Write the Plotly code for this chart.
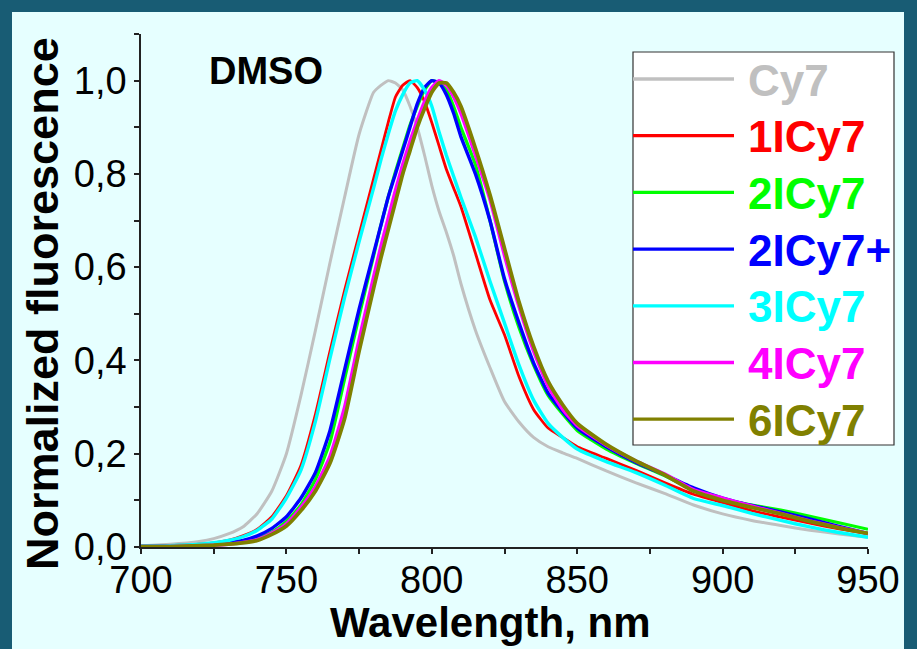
import plotly.graph_objects as go

# ---------------- data ----------------
WAVELENGTH = [700, 710, 720, 725, 730, 735, 740, 745, 750, 755, 760, 765, 770, 775, 780,
              782.5, 785, 787.5, 790, 792.5, 795, 797.5, 800, 802.5, 805, 807.5, 810,
              815, 820, 825, 830, 835, 840, 845, 850, 860, 870, 880, 890, 900, 910,
              920, 930, 940, 950]

CY7 = [0.003, 0.006, 0.012, 0.018, 0.028, 0.043, 0.072, 0.12, 0.2, 0.325, 0.465, 0.61,
       0.75, 0.885, 0.975,
       0.99, 1.0, 0.995, 0.98, 0.945, 0.9, 0.84, 0.775, 0.72, 0.675, 0.625, 0.565,
       0.465, 0.385, 0.312, 0.268, 0.235, 0.215, 0.202, 0.19, 0.163, 0.138, 0.115,
       0.09, 0.071, 0.057, 0.046, 0.036, 0.028, 0.021]
ICY7_1 = [0.002, 0.003, 0.006, 0.009, 0.014, 0.024, 0.038, 0.065, 0.11, 0.175, 0.285,
          0.42, 0.55, 0.67, 0.79,
          0.85, 0.91, 0.965, 0.99, 1.0, 0.985, 0.955, 0.91, 0.86, 0.81, 0.77, 0.73,
          0.63, 0.53, 0.455, 0.365, 0.295, 0.255, 0.235, 0.215, 0.19, 0.165, 0.138,
          0.113, 0.095, 0.078, 0.064, 0.051, 0.039, 0.029]
ICY7_2 = [0.001, 0.002, 0.003, 0.005, 0.007, 0.011, 0.018, 0.032, 0.055, 0.09, 0.145,
          0.225, 0.36, 0.495, 0.625,
          0.69, 0.75, 0.805, 0.855, 0.905, 0.945, 0.98, 1.0, 0.995, 0.98, 0.945, 0.9,
          0.82, 0.7, 0.57, 0.47, 0.39, 0.325, 0.285, 0.25, 0.21, 0.18, 0.153, 0.123,
          0.103, 0.09, 0.079, 0.066, 0.052, 0.038]
ICY7_2P = [0.001, 0.002, 0.004, 0.006, 0.009, 0.014, 0.024, 0.04, 0.065, 0.105, 0.16,
           0.25, 0.38, 0.51, 0.63,
           0.69, 0.75, 0.8, 0.85, 0.9, 0.95, 0.985, 1.0, 0.995, 0.97, 0.93, 0.88,
           0.8, 0.7, 0.575, 0.48, 0.395, 0.33, 0.29, 0.255, 0.215, 0.182, 0.155,
           0.127, 0.105, 0.089, 0.075, 0.06, 0.044, 0.029]
ICY7_3 = [0.002, 0.003, 0.006, 0.009, 0.014, 0.022, 0.036, 0.06, 0.105, 0.165, 0.27,
          0.405, 0.535, 0.655, 0.77,
          0.83, 0.885, 0.935, 0.97, 0.995, 1.0, 0.98, 0.945, 0.89, 0.84, 0.795, 0.75,
          0.665, 0.57, 0.48, 0.39, 0.315, 0.265, 0.235, 0.21, 0.183, 0.16, 0.133,
          0.104, 0.089, 0.072, 0.057, 0.043, 0.031, 0.021]
ICY7_4 = [0.001, 0.001, 0.003, 0.004, 0.006, 0.01, 0.016, 0.03, 0.05, 0.085, 0.13,
          0.195, 0.3, 0.445, 0.58,
          0.645, 0.705, 0.765, 0.82, 0.87, 0.915, 0.955, 0.985, 1.0, 0.99, 0.965, 0.93,
          0.84, 0.745, 0.625, 0.515, 0.42, 0.345, 0.295, 0.26, 0.218, 0.185, 0.157,
          0.123, 0.105, 0.088, 0.072, 0.056, 0.042, 0.029]
ICY7_6 = [0.001, 0.001, 0.003, 0.004, 0.006, 0.009, 0.014, 0.027, 0.045, 0.078, 0.12,
          0.18, 0.275, 0.42, 0.555,
          0.62, 0.68, 0.74, 0.8, 0.85, 0.9, 0.94, 0.975, 0.995, 0.995, 0.975, 0.945,
          0.855, 0.755, 0.64, 0.525, 0.43, 0.355, 0.305, 0.265, 0.22, 0.185, 0.155,
          0.12, 0.1, 0.085, 0.071, 0.055, 0.041, 0.029]

SERIES_NAMES = ["Cy7", "1ICy7", "2ICy7", "2ICy7+", "3ICy7", "4ICy7", "6ICy7"]
SERIES_VALUES = [CY7, ICY7_1, ICY7_2, ICY7_2P, ICY7_3, ICY7_4, ICY7_6]

X_TICKS = [700, 750, 800, 850, 900, 950]
Y_TICKS = [0.0, 0.2, 0.4, 0.6, 0.8, 1.0]
Y_TICK_TEXT = ["0,0", "0,2", "0,4", "0,6", "0,8", "1,0"]
X_TITLE = "Wavelength, nm"
Y_TITLE = "Normalized fluorescence"
SOLVENT = "DMSO"

# ---------------- styles ----------------
COLORS = ["#c0c0c0", "#ff0000", "#00ff00", "#0000ff", "#00ffff", "#ff00ff", "#808000"]
WIDTHS = [3.0, 2.8, 3.2, 3.4, 3.4, 3.4, 3.8]
FONT = "Liberation Sans, Arial, sans-serif"
AXIS_COLOR = "#222222"

W, H = 917, 649
ML, MR, MT, MB = 141, 49, 34, 102
PW, PH = W - ML - MR, H - MT - MB


def px_x(px):
    return (px - ML) / PW


def px_y(py):
    return (H - MB - py) / PH


fig = go.Figure()
for name, vals, color, width in zip(SERIES_NAMES, SERIES_VALUES, COLORS, WIDTHS):
    fig.add_trace(go.Scatter(
        x=WAVELENGTH, y=vals, mode="lines", name=name, showlegend=False,
        line=dict(color=color, width=width, shape="spline", smoothing=0.5),
    ))

shapes = [
    # light panel on the dark frame
    dict(type="rect", xref="paper", yref="paper", layer="below",
         x0=px_x(12), x1=px_x(904), y0=px_y(660), y1=px_y(12),
         fillcolor="#e6ffff", line=dict(width=0)),
    # legend box
    dict(type="rect", xref="paper", yref="paper", layer="above",
         x0=px_x(633), x1=px_x(894), y0=px_y(445), y1=px_y(52),
         fillcolor="#ffffff", line=dict(color="#333333", width=1.2)),
]
annotations = [
    dict(text="<b>" + SOLVENT + "</b>", xref="paper", yref="paper",
         x=px_x(266), y=px_y(71), xanchor="center", yanchor="middle",
         showarrow=False, font=dict(family=FONT, size=38, color="black")),
    dict(text="<b>" + X_TITLE + "</b>", xref="paper", yref="paper",
         x=px_x(490), y=px_y(622), xanchor="center", yanchor="middle",
         showarrow=False, font=dict(family=FONT, size=42, color="black")),
    dict(text="<b>" + Y_TITLE + "</b>", xref="paper", yref="paper", textangle=-90,
         x=px_x(42), y=px_y(304), xanchor="center", yanchor="middle",
         showarrow=False, font=dict(family=FONT, size=45, color="black")),
]
for i, (name, color) in enumerate(zip(SERIES_NAMES, COLORS)):
    ypx = 79 + i * 56.7
    shapes.append(dict(type="line", xref="paper", yref="paper", layer="above",
                       x0=px_x(633), x1=px_x(734), y0=px_y(ypx), y1=px_y(ypx),
                       line=dict(color=color, width=3.3)))
    annotations.append(dict(text="<b>" + name + "</b>", xref="paper", yref="paper",
                            x=px_x(746), y=px_y(ypx + 1), xanchor="left",
                            yanchor="middle", showarrow=False,
                            font=dict(family=FONT, size=44, color=color)))

fig.update_layout(
    width=W, height=H, autosize=False,
    margin=dict(l=ML, r=MR, t=MT, b=MB, pad=0),
    paper_bgcolor="#185c74", plot_bgcolor="rgba(0,0,0,0)",
    font=dict(family=FONT, color="black"),
    shapes=shapes, annotations=annotations,
    xaxis=dict(
        range=[700, 950], tickvals=X_TICKS, showgrid=False, zeroline=False,
        showline=True, linecolor=AXIS_COLOR, linewidth=1.5,
        ticks="outside", ticklen=5, tickwidth=1.5, tickcolor=AXIS_COLOR,
        ticklabelstandoff=-6,
        minor=dict(dtick=25, tick0=700, ticks="outside", ticklen=5, tickwidth=1.5,
                   tickcolor=AXIS_COLOR),
        tickfont=dict(family=FONT, size=38, color="black"),
    ),
    yaxis=dict(
        range=[0, 1.1], tickvals=Y_TICKS, ticktext=Y_TICK_TEXT, showgrid=False,
        zeroline=False, showline=True, linecolor=AXIS_COLOR, linewidth=1.5,
        ticks="outside", ticklen=5, tickwidth=1.5, tickcolor=AXIS_COLOR,
        minor=dict(dtick=0.1, tick0=0, ticks="outside", ticklen=5, tickwidth=1.5,
                   tickcolor=AXIS_COLOR),
        tickfont=dict(family=FONT, size=38, color="black"),
    ),
)

fig.write_html("out.html",
               config={"displayModeBar": False},
               post_script="document.body.style.margin='0';"
                           "document.body.style.overflow='hidden';")
